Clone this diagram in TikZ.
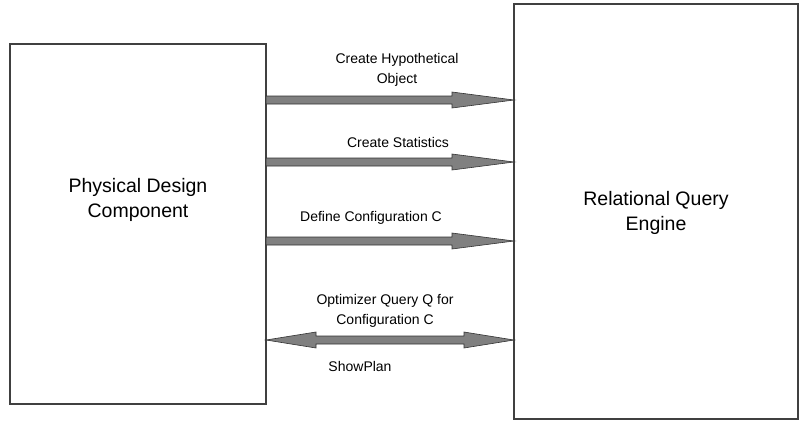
\documentclass[tikz,border=0pt]{standalone}
\usepackage{fontspec}
\setmainfont{Liberation Sans}
\begin{document}
\begin{tikzpicture}[x=1pt,y=-1pt,
  box/.style={draw=black!75,line width=1.2pt,fill=white,inner sep=0pt,align=center,font=\fontsize{19.5}{25}\selectfont},
  lbl/.style={align=center,inner sep=0pt,font=\fontsize{14}{20}\selectfont},
  arr/.style={draw=black!80,line width=0.6pt,fill=black!50}]
\useasboundingbox (0,0) rectangle (799,421);
\node[box,minimum width=256pt,minimum height=360pt] (L) at (138,224) {};
\node[box,minimum width=284pt,minimum height=415pt] (R) at (656,211.5) {};
\node[lbl,font=\fontsize{19.5}{25}\selectfont] (Lt) at (138,200) {Physical Design\\Component};
\node[lbl,font=\fontsize{19.5}{25}\selectfont] (Rt) at (656,213) {Relational Query\\Engine};
% single arrows
\foreach \yy/\nm in {100/a1,162/a2,241/a3}{
  \coordinate (\nm s) at (266,\yy);
  \coordinate (\nm e) at (514,\yy);
  \path[arr] (\nm s) ++(0,-4) -- ++(186,0) -- ++(0,-4) -- (\nm e) -- ++(-62,8) -- ++(0,-4) -- ++(-186,0) -- cycle;
}
% double arrow
\coordinate (a4s) at (266,340);
\coordinate (a4e) at (514,340);
\path[arr] (a4s) -- ++(50,-8) -- ++(0,4) -- ++(148,0) -- ++(0,-4) -- (a4e) -- ++(-50,8) -- ++(0,-4) -- ++(-148,0) -- ++(0,4) -- cycle;
\node[lbl] (t1) at (397,70) {Create Hypothetical\\Object};
\node[lbl] (t2) at (398,142) {Create Statistics};
\node[lbl] (t3) at (371,218) {Define Configuration C};
\node[lbl] (t4) at (385,311) {Optimizer Query Q for\\Configuration C};
\node[lbl] (t5) at (360,366) {ShowPlan};
\end{tikzpicture}
\end{document}
